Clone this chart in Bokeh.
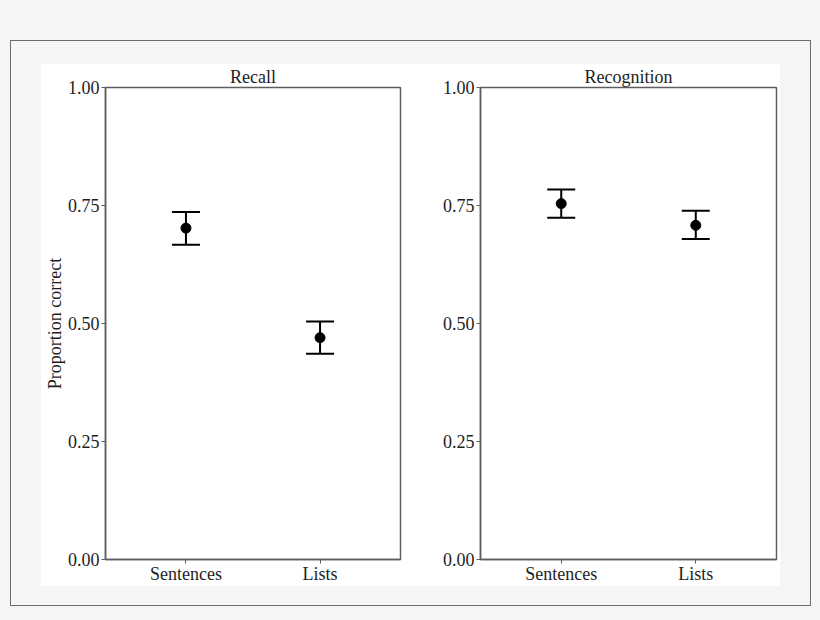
from bokeh.plotting import figure
from bokeh.layouts import row, column
from bokeh.models import ColumnDataSource, Whisker, TeeHead, FixedTicker, NumeralTickFormatter, Range1d
from bokeh.embed import file_html
from bokeh.resources import INLINE

FONT = 'Liberation Serif'
BOX = '#5e5e5e'
TEXT = '#1e1e1e'

# data
conditions = ['Sentences', 'Lists']
recall_mean = [0.702, 0.470]
recall_lower = [0.667, 0.436]
recall_upper = [0.736, 0.504]
recog_mean = [0.754, 0.708]
recog_lower = [0.724, 0.679]
recog_upper = [0.784, 0.739]
y_ticks = [0, 0.25, 0.5, 0.75, 1.0]


def panel(title, mean, lower, upper, frame_w, left, right, ylabel=None):
    xs = [i + 1 for i in range(len(conditions))]
    src = ColumnDataSource(data={'x': xs, 'mean': mean, 'lower': lower, 'upper': upper})

    p = figure(
        title=title,
        frame_width=frame_w,
        frame_height=472,
        x_range=Range1d(0.4, len(conditions) + 0.6),
        y_range=Range1d(0, 1),
        toolbar_location=None,
        output_backend='svg',
        min_border_left=left,
        min_border_right=right,
        min_border_top=22,
        min_border_bottom=22,
    )

    p.add_layout(Whisker(
        source=src, base='x', upper='upper', lower='lower',
        line_color='black', line_width=2,
        upper_head=TeeHead(size=28, line_color='black', line_width=2),
        lower_head=TeeHead(size=28, line_color='black', line_width=2),
    ))
    p.scatter(source=src, x='x', y='mean', size=10, color='black')

    p.xaxis.ticker = FixedTicker(ticks=xs)
    p.xaxis.major_label_overrides = {x: c for x, c in zip(xs, conditions)}
    p.yaxis.ticker = FixedTicker(ticks=y_ticks)
    p.yaxis.formatter = NumeralTickFormatter(format='0.00')

    p.xgrid.grid_line_color = None
    p.ygrid.grid_line_color = None
    p.outline_line_color = BOX
    p.outline_line_width = 1.5
    p.axis.axis_line_color = BOX
    p.axis.axis_line_width = 1.5
    p.axis.major_tick_line_color = BOX
    p.axis.major_tick_out = 4
    p.axis.major_tick_in = 0
    p.axis.minor_tick_line_color = None
    p.axis.major_label_standoff = 2
    p.xaxis.major_label_standoff = 0
    p.axis.major_label_text_font = FONT
    p.axis.major_label_text_font_size = '18px'
    p.axis.major_label_text_color = TEXT

    if ylabel:
        p.yaxis.axis_label = ylabel
        p.yaxis.axis_label_text_font = FONT
        p.yaxis.axis_label_text_font_size = '18px'
        p.yaxis.axis_label_text_font_style = 'normal'
        p.yaxis.axis_label_text_color = TEXT
        p.yaxis.axis_label_standoff = 0

    p.title.align = 'center'
    p.title.text_font = FONT
    p.title.text_font_size = '18px'
    p.title.text_font_style = 'normal'
    p.title.text_color = TEXT
    p.title.standoff = 1

    p.background_fill_color = 'white'
    p.border_fill_color = 'white'
    return p


p1 = panel('Recall', recall_mean, recall_lower, recall_upper, 295, 64, 39, 'Proportion correct')
p2 = panel('Recognition', recog_mean, recog_lower, recog_upper, 296, 40, 4)

inner = row(p1, p2, styles={'background-color': 'white'})
box = column(inner, styles={'border': '1px solid #6e6e6e', 'padding': '23px 30px 19px 30px',
                            'background-color': '#f5f5f5'})
page = column(box, styles={'background-color': '#f5f5f5', 'padding': '40px 9px 14px 10px'})

open("out.html", "w").write(file_html(page, INLINE))
